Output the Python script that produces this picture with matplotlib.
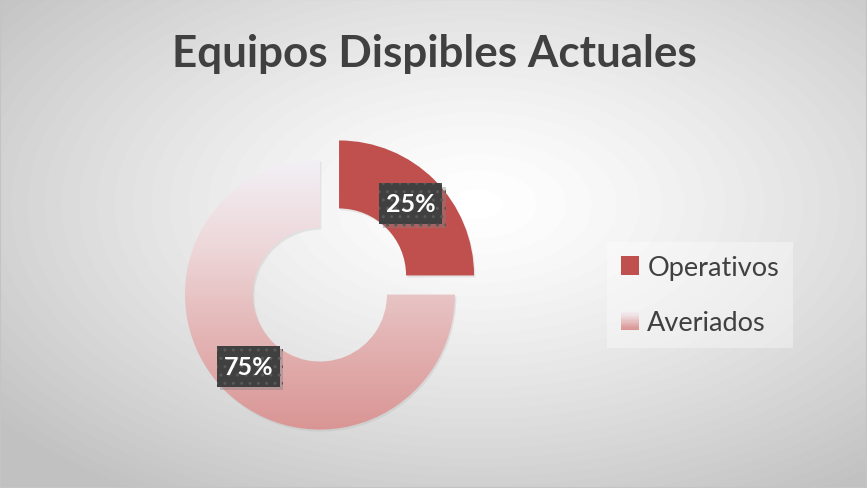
import numpy as np
import matplotlib.pyplot as plt
import matplotlib.patheffects as pe
from matplotlib.colors import LinearSegmentedColormap
from matplotlib.legend_handler import HandlerBase
from matplotlib.patches import Patch, Rectangle, FancyBboxPatch

plt.rcParams['font.family'] = ['Lato', 'DejaVu Sans']

# data
labels = ["Operativos", "Averiados"]
values = [25, 75]
title = "Equipos Dispibles Actuales"

W, H = 867, 489
fig = plt.figure(figsize=(W / 100, H / 100), dpi=100)

# radial gradient background (white centre, grey corners)
bg = fig.add_axes([0, 0, 1, 1])
yy, xx = np.mgrid[0:H, 0:W]
d = np.hypot((xx - W * 0.55) / (W * 0.5), (yy - H * 0.42) / (H * 0.5)) / np.sqrt(2)
shade = 1 - 0.24 * np.clip(d, 0, 1) ** 1.3
bg.imshow(shade, cmap="gray", vmin=0, vmax=1, extent=[0, 1, 0, 1],
          aspect="auto", origin="upper")
bg.set_axis_off()

# doughnut
R = 135.0  # outer radius in px
ax = fig.add_axes([129.5 / W, 3 / H, 400 / W, 400 / H])
av_cmap = LinearSegmentedColormap.from_list(
    "av", ["#F2F0F5", "#EDD6D8", "#E3B3B3", "#D99594"])
explode = [0.1, 0.1]
wedges, _, autotexts = ax.pie(
    values, startangle=90, counterclock=False, radius=1, explode=explode,
    colors=["#C0504D", av_cmap(0.5)], autopct="%1.0f%%", pctdistance=0.75,
    wedgeprops=dict(width=68 / R, linewidth=0))

# soft shadow under the slices
for wd in wedges:
    wd.set_path_effects([pe.SimplePatchShadow(offset=(1, -1.5), shadow_rgbFace="#a0a0a0", alpha=0.2),
                         pe.Normal()])

# vertical gradient fill for the big slice
w = wedges[1]
cx, cy = w.center
w.set_facecolor("none")
grad = np.linspace(0, 1, 256)[:, None]
im = ax.imshow(grad, cmap=av_cmap, extent=[cx - 1, cx + 1, cy - 1, cy + 1],
               origin="upper", aspect="auto", zorder=w.get_zorder())
im.set_clip_path(w)

# dark label boxes
bw, bh = 63 / R, 41 / R
for t in autotexts:
    x, y = t.get_position()
    box = FancyBboxPatch((x - bw / 2, y - bh / 2), bw, bh, boxstyle="square,pad=0",
                         fc="#404040", ec="#585858", hatch="..", lw=0, zorder=4)
    box.set_path_effects([pe.SimplePatchShadow(offset=(2.5, -2.5), shadow_rgbFace="#808080", alpha=0.4),
                          pe.Normal()])
    ax.add_patch(box)
    t.set(color="white", fontsize=18, fontweight="bold", zorder=5)

lim = 200 / R
ax.set_xlim(-lim, lim)
ax.set_ylim(-lim, lim)
ax.set_axis_off()


class GradientHandler(HandlerBase):
    def create_artists(self, legend, orig_handle, xdescent, ydescent,
                       width, height, fontsize, trans):
        n = 16
        arts = []
        for i in range(n):
            r = Rectangle((-xdescent, -ydescent + height * i / n), width,
                          height / n * 1.05, fc=av_cmap(1 - i / (n - 1)),
                          ec="none", transform=trans)
            arts.append(r)
        return arts


handles = [Patch(fc="#C0504D", ec="none"), Patch(fc="#E3B3B3", ec="none")]
leg = fig.legend(handles, labels, loc="center",
                 bbox_to_anchor=(700 / W, 1 - 296 / H),
                 fontsize=19.5, handlelength=0.68, handleheight=0.68,
                 handletextpad=0.3, labelspacing=1.1, borderpad=0.5,
                 borderaxespad=0, fancybox=False, frameon=True,
                 facecolor="white", edgecolor="none", framealpha=0.35,
                 handler_map={handles[1]: GradientHandler()})
for t in leg.get_texts():
    t.set_color("#404040")

fig.text(434.5 / W, 1 - 54 / H, title, ha="center", va="center",
         fontsize=31.7, fontweight="bold", color="#404040")

fig.patches.append(Rectangle((0, 0), 1, 1, transform=fig.transFigure,
                             fill=False, ec="#C4C4C4", lw=1.5))

fig.savefig("out.png", dpi=100)
